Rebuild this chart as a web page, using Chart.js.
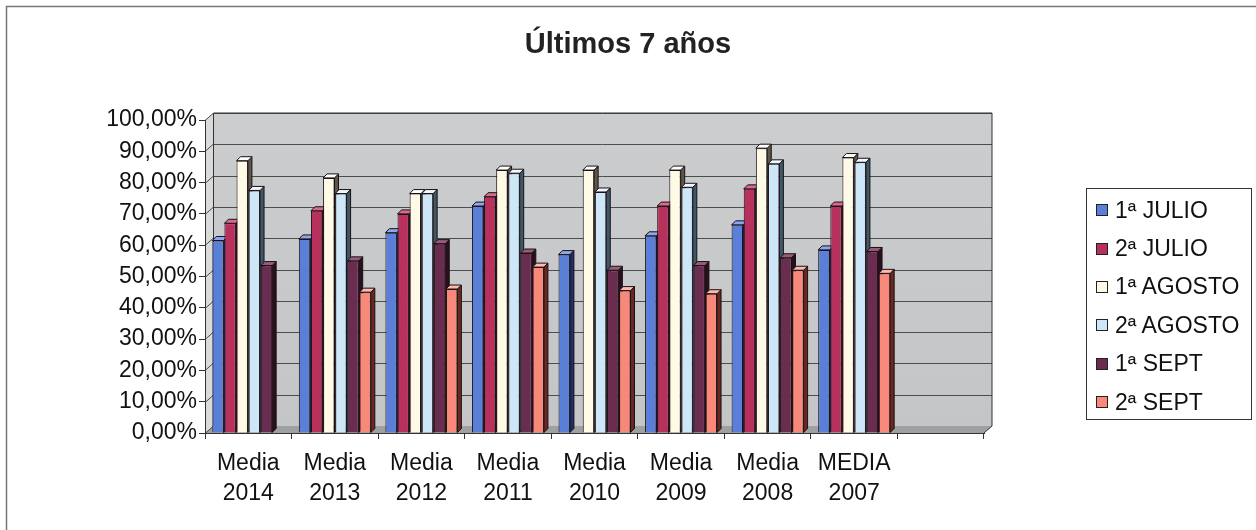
<!DOCTYPE html>
<html><head><meta charset="utf-8">
<script src="https://cdn.jsdelivr.net/npm/chart.js@4/dist/chart.umd.min.js"></script>
<style>
html,body{margin:0;padding:0;background:#fff;width:1256px;height:530px;overflow:hidden}
#wrap{position:relative;width:1256px;height:530px}
canvas{position:absolute;left:0;top:0}
#legend{position:absolute;left:1086px;top:188px;width:166px;height:232px;border:1px solid #333;box-sizing:border-box;font-family:'Liberation Sans',Arial,sans-serif;font-size:23px;color:#111;padding-top:2px}
.item{height:38.4px;display:flex;align-items:center;padding-left:9px;white-space:nowrap}
.sw{width:10px;height:10px;border:1px solid #222;margin-right:7px;flex:none}
</style></head><body>
<div id="wrap"><canvas id="c" width="1256" height="530"></canvas><div id="legend"></div></div>
<script>
const categories = [['Media','2014'],['Media','2013'],['Media','2012'],['Media','2011'],['Media','2010'],['Media','2009'],['Media','2008'],['MEDIA','2007'],''];
const seriesNames = ['1ª JULIO','2ª JULIO','1ª AGOSTO','2ª AGOSTO','1ª SEPT','2ª SEPT'];
const julio1  = [61.5, 62.0, 64.0, 72.5, 57.0, 63.0, 66.5, 58.5, null];
const julio2  = [67.0, 71.0, 70.0, 75.5, null, 72.5, 78.0, 72.5, null];
const agosto1 = [87.0, 81.5, 76.5, 84.0, 84.0, 84.0, 91.0, 88.0, null];
const agosto2 = [77.5, 76.5, 76.5, 83.0, 77.0, 78.5, 86.0, 86.5, null];
const sept1   = [53.5, 55.0, 60.5, 57.5, 52.0, 53.5, 56.0, 58.0, null];
const sept2   = [null, 45.0, 46.0, 53.0, 45.5, 44.5, 52.0, 51.0, null];
const yTicks  = [0,10,20,30,40,50,60,70,80,90,100];

const faceColors = ['#5a7fd8','#b8315d','#fffae6','#cde7f8','#6b2d4f','#f8897a'];
const sideColors = ['#1f2f66','#4a0f24','#5c5848','#3e5868','#2a0f1e','#6a2820'];
const topColors  = ['#8aa6ec','#d86a8e','#ffffff','#eef8ff','#9a5a7c','#ffb8ac'];
const seriesData = [julio1, julio2, agosto1, agosto2, sept1, sept2];

const DX = 8, DY = -7, BD = 4;
const FONT = "'Liberation Sans', Arial, sans-serif";

const bg3d = {
  id: 'bg3d',
  beforeDraw(chart) {
    const {ctx, chartArea: a, scales: {y}} = chart;
    const L = a.left, R = a.right, T = a.top, B = a.bottom;
    ctx.save();
    ctx.strokeStyle = '#777'; ctx.lineWidth = 1.5;
    ctx.beginPath(); ctx.moveTo(6.5, 530); ctx.lineTo(6.5, 6.5); ctx.lineTo(1256, 6.5); ctx.stroke();
    const g = ctx.createLinearGradient(0, T + DY, 0, B + DY);
    g.addColorStop(0, '#cbcdcf'); g.addColorStop(1, '#c3c5c7');
    ctx.fillStyle = g; ctx.fillRect(L + DX, T + DY, R - L, B - T);
    ctx.fillStyle = '#dadada';
    ctx.beginPath(); ctx.moveTo(L, T); ctx.lineTo(L + DX, T + DY); ctx.lineTo(L + DX, B + DY); ctx.lineTo(L, B); ctx.closePath(); ctx.fill();
    ctx.fillStyle = '#9ea0a2';
    ctx.beginPath(); ctx.moveTo(L, B); ctx.lineTo(L + DX, B + DY); ctx.lineTo(R + DX, B + DY); ctx.lineTo(R, B); ctx.closePath(); ctx.fill();
    ctx.strokeStyle = '#4d4d4d'; ctx.lineWidth = 1;
    y.ticks.forEach(t => {
      const py = Math.round(y.getPixelForValue(t.value)) + 0.5;
      ctx.beginPath(); ctx.moveTo(L, py); ctx.lineTo(L + DX, py + DY);
      if (t.value > 0) ctx.lineTo(R + DX, py + DY);
      ctx.stroke();
    });
    ctx.strokeStyle = '#333';
    ctx.beginPath(); ctx.moveTo(L + DX + 0.5, B + DY); ctx.lineTo(L + DX + 0.5, T + DY);
    ctx.lineTo(R + DX, T + DY); ctx.lineTo(R + DX, B + DY); ctx.lineTo(R, B); ctx.stroke();
    ctx.restore();
  }
};

const bars3d = {
  id: 'bars3d',
  beforeDatasetsDraw(chart) {
    const ctx = chart.ctx;
    ctx.save();
    chart.data.datasets.forEach((ds, i) => {
      const meta = chart.getDatasetMeta(i);
      meta.data.forEach((el, j) => {
        if (ds.data[j] == null) return;
        const {x, y, base, width} = el.getProps(['x','y','base','width'], true);
        const l = x - width / 2, r = x + width / 2;
        ctx.strokeStyle = '#1a1014'; ctx.lineWidth = 1;
        ctx.fillStyle = sideColors[i];
        ctx.beginPath(); ctx.moveTo(r, y); ctx.lineTo(r + BD, y - BD); ctx.lineTo(r + BD, base - BD); ctx.lineTo(r, base); ctx.closePath(); ctx.fill(); ctx.stroke();
        ctx.fillStyle = topColors[i];
        ctx.beginPath(); ctx.moveTo(l, y); ctx.lineTo(l + BD, y - BD); ctx.lineTo(r + BD, y - BD); ctx.lineTo(r, y); ctx.closePath(); ctx.fill(); ctx.stroke();
      });
    });
    ctx.restore();
  }
};

const datasets = seriesNames.map((n, i) => ({
  label: n,
  data: seriesData[i],
  backgroundColor: faceColors[i],
  borderColor: '#1e1418',
  borderWidth: 1,
  categoryPercentage: 0.84,
  barPercentage: 0.94
}));

new Chart(document.getElementById('c'), {
  type: 'bar',
  data: { labels: categories, datasets },
  plugins: [bg3d, bars3d],
  options: {
    responsive: false,
    animation: false,
    layout: { padding: 0 },
    plugins: {
      legend: { display: false },
      tooltip: { enabled: false },
      title: {
        display: true, text: 'Últimos 7 años', color: '#222',
        font: { family: FONT, size: 29, weight: 'bold' },
        padding: { top: 28, bottom: 57.2 }
      }
    },
    scales: {
      x: {
        grid: { display: true, drawOnChartArea: false, drawTicks: true, tickLength: 6, color: '#333', offset: true },
        border: { display: true, color: '#333' },
        ticks: { color: '#111', font: { family: FONT, size: 23, lineHeight: 1.32 }, maxRotation: 0, autoSkip: false, padding: 9 },
        afterFit(s) { s.height = 97; }
      },
      y: {
        min: 0, max: 100,
        afterBuildTicks(s) { s.ticks = yTicks.map(v => ({ value: v })); },
        grid: { display: true, drawOnChartArea: false, drawTicks: true, tickLength: 6, color: '#333' },
        border: { display: true, color: '#333' },
        ticks: { color: '#111', font: { family: FONT, size: 23 }, padding: 2,
          callback: v => v.toFixed(2).replace('.', ',') + '%' },
        afterFit(s) { s.width = 205; }
      },
      yRight: {
        position: 'right', min: 0, max: 100, display: true,
        grid: { display: false, drawTicks: false },
        border: { display: false },
        ticks: { display: false },
        afterFit(s) { s.width = 272; }
      }
    }
  }
});

const lg = document.getElementById('legend');
seriesNames.forEach((n, i) => {
  const d = document.createElement('div'); d.className = 'item';
  const s = document.createElement('span'); s.className = 'sw'; s.style.background = faceColors[i];
  const t = document.createElement('span'); t.textContent = n;
  d.appendChild(s); d.appendChild(t); lg.appendChild(d);
});
</script>
</body></html>
